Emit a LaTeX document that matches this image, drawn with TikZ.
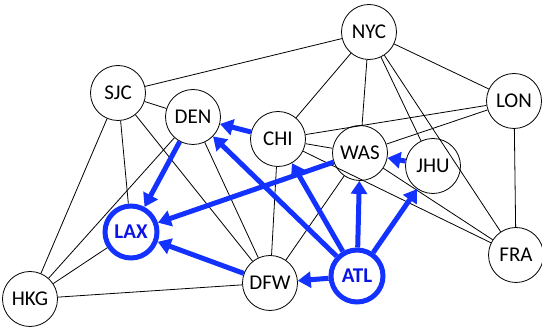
\documentclass[tikz,border=0pt]{standalone}
\usepackage{fontspec}
\setmainfont{Carlito}
\usetikzlibrary{arrows.meta}
\definecolor{netblue}{RGB}{20,50,255}
\definecolor{txtblue}{RGB}{10,20,230}
\tikzset{
  city/.style={circle,draw=black,line width=0.8pt,fill=white,minimum size=55pt,inner sep=0pt,font=\fontsize{21}{24}\selectfont},
  hub/.style={city,draw=netblue,line width=5pt,minimum size=52pt,text=txtblue,font=\fontsize{21}{24}\selectfont\bfseries},
  link/.style={black,line width=0.8pt},
  route/.style={netblue,line width=5pt,-{Triangle[length=13pt,width=16pt]}}
}
\begin{document}
\begin{tikzpicture}[x=1pt,y=-1pt]
\useasboundingbox (0,0) rectangle (542,328);
\node[city] (NYC) at (369,32) {NYC};
\node[city] (LON) at (514,101) {LON};
\node[city] (SJC) at (118,93) {SJC};
\node[city] (DEN) at (193,117) {DEN};
\node[city] (CHI) at (278,139) {CHI};
\node[city] (WAS) at (360,153) {WAS};
\node[city] (JHU) at (433,166) {JHU};
\node[city] (FRA) at (516,255) {FRA};
\node[hub] (LAX) at (131,232) {LAX};
\node[city] (HKG) at (30,299) {HKG};
\node[city] (DFW) at (270,283) {DFW};
\node[hub] (ATL) at (357,276) {ATL};
% thin links
\draw[link] (SJC) -- (NYC);
\draw[link] (SJC) -- (DEN);
\draw[link] (SJC) -- (HKG);
\draw[link] (SJC) -- (LAX);
\draw[link] (SJC) -- (DFW);
\draw[link] (DEN) -- (HKG);
\draw[link] (DEN) -- (DFW);
\draw[link] (LAX) -- (HKG);
\draw[link] (HKG) -- (DFW);
\draw[link] (CHI) -- (NYC);
\draw[link] (CHI) -- (LON);
\draw[link] (CHI) -- (WAS);
\draw[link] (CHI) -- (DFW);
\draw[link] (CHI) -- (FRA);
\draw[link] (WAS) -- (FRA);
\draw[link] (WAS) -- (DFW);
\draw[link] (NYC) -- (WAS);
\draw[link] (NYC) -- (JHU);
\draw[link] (NYC) -- (FRA);
\draw[link] (NYC) -- (LON);
\draw[link] (LON) -- (WAS);
\draw[link] (LON) -- (FRA);
% routes
\draw[route] (CHI) -- (DEN);
\draw[route] (ATL) -- (DEN);
\draw[route] (DEN) -- (LAX);
\draw[route] (WAS) -- (LAX);
\draw[route] (DFW) -- (LAX);
\draw[route] (ATL) -- (CHI);
\draw[route] (ATL) -- (WAS);
\draw[route] (ATL) -- (JHU);
\draw[route] (ATL) -- (DFW);
\draw[route] (JHU) -- (WAS);
\end{tikzpicture}
\end{document}
